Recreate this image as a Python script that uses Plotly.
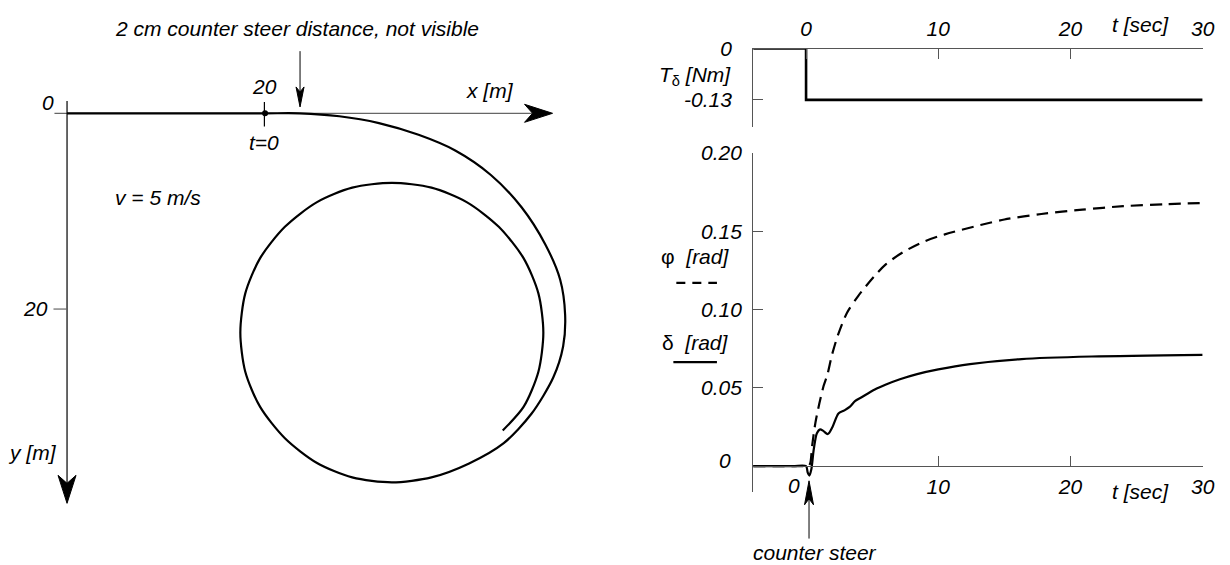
import plotly.graph_objects as go

W, H = 1230, 565
FONT = "Liberation Sans, Arial, Helvetica, sans-serif"
AXIS = "#555555"
FS = 21

# rider path seen from above [m], y counted downward
path_x = [0, 10, 20, 23.5, 27.5, 31.5, 35.5, 39.2, 42.8, 45.9, 48.3, 49.8, 50.3, 50.1,
          49.1, 46.9, 44.1, 40.55, 36.8, 32.8, 28.8, 25.2, 22.0, 19.5,
          18.0, 17.5, 18.0, 19.5, 22.0, 25.2, 28.8, 32.8, 36.8, 40.4,
          43.6, 46.1, 47.6, 48.1, 47.6, 46.1, 44.0]
path_y = [0, 0, 0, 0, 0.3, 1.0, 2.2, 3.8, 6.3, 9.6, 13.4, 17.0, 20.6, 23.8,
          27.0, 30.7, 33.7, 35.8, 37.2, 37.7, 37.2, 35.7, 33.2, 30.0,
          26.4, 22.4, 18.4, 14.8, 11.6, 9.1, 7.6, 7.1, 7.6, 9.1,
          11.6, 14.8, 18.4, 22.4, 26.4, 30.0, 32.4]
t0_x = [20]
t0_y = [0]

# steering torque step
t_torque = [-4, 0, 0, 30]
torque = [0, 0, -0.13, -0.13]

# roll angle phi (dashed)
t_phi = [-4, -1, 0.0, 0.2, 0.33, 0.46, 0.70, 1.0, 1.33, 1.62, 1.96, 2.41, 3.1, 3.94,
         5.13, 6.05, 7.35, 8.95, 10.5, 13.2, 15.0, 17.8, 20.9, 24.0, 27.2, 30]
phi = [0, 0, 0, 0.0, 0.0023, 0.013, 0.0273, 0.0398, 0.0513, 0.0586, 0.071, 0.0836, 0.098, 0.1086,
       0.121, 0.129, 0.1367, 0.1435, 0.148, 0.154, 0.1575, 0.161, 0.1638, 0.166, 0.1673, 0.168]

# steer angle delta (solid)
t_delta = [-4, -1, 0.0, 0.12, 0.25, 0.4, 0.58, 0.82, 1.07, 1.3, 1.65, 2.0, 2.45, 2.9, 3.3,
           3.7, 4.2, 5.2, 6.0, 7.1, 8.4, 10.0, 12.4, 16.3, 21.6, 30]
delta = [0, 0, 0, -0.004, -0.006, -0.002, 0.0106, 0.021, 0.0235, 0.0225, 0.0205, 0.025, 0.0336, 0.0356, 0.0378,
         0.0415, 0.044, 0.049, 0.052, 0.0555, 0.0588, 0.0618, 0.0652, 0.0684, 0.070, 0.0711]

time_ticks = [0, 10, 20, 30]
torque_ticks = [0, -0.13]
torque_labels = ["0", "-0.13"]
angle_ticks = [0.05, 0.10, 0.15, 0.20]
angle_labels = ["0.05", "0.10", "0.15", "0.20"]


def px(x):
    return x / W


def py(y):
    return 1 - y / H


fig = go.Figure()
fig.add_trace(go.Scatter(x=path_x, y=path_y, mode="lines", xaxis="x3", yaxis="y3",
                         line=dict(color="black", width=2.2, shape="spline", smoothing=0.8)))
fig.add_trace(go.Scatter(x=t0_x, y=t0_y, mode="markers", xaxis="x3", yaxis="y3",
                         marker=dict(color="black", size=6)))
fig.add_trace(go.Scatter(x=t_torque, y=torque, mode="lines", xaxis="x", yaxis="y",
                         line=dict(color="black", width=2.6)))
fig.add_trace(go.Scatter(x=t_phi, y=phi, mode="lines", xaxis="x2", yaxis="y2",
                         line=dict(color="black", width=2.2, dash="12px,7px", shape="spline", smoothing=0.8)))
fig.add_trace(go.Scatter(x=t_delta, y=delta, mode="lines", xaxis="x2", yaxis="y2",
                         line=dict(color="black", width=2.2, shape="spline", smoothing=0.8)))

axis_style = dict(showline=True, linecolor=AXIS, linewidth=1, ticks="inside", ticklen=10,
                  tickcolor=AXIS, showgrid=False, zeroline=False,
                  tickfont=dict(style="italic", size=FS, color="black"))
x_dom = [px(760.6), px(1214.5)]

fig.update_layout(
    width=W, height=H, margin=dict(l=0, r=0, t=0, b=0),
    paper_bgcolor="white", plot_bgcolor="rgba(0,0,0,0)",
    showlegend=False,
    font=dict(family=FONT, size=FS, color="black"),
    xaxis=dict(domain=x_dom, range=[-4, 30], anchor="y", side="top", tickvals=time_ticks,
               ticklabelstandoff=3, **axis_style),
    yaxis=dict(domain=[py(118), py(37.3)], range=[-0.2, 0], anchor="x", tickvals=torque_ticks,
               ticktext=torque_labels, ticklabelstandoff=16, **axis_style),
    xaxis2=dict(domain=x_dom, range=[-4, 30], anchor="free", position=py(463.7),
                tickvals=time_ticks[1:], ticklabelstandoff=2, **axis_style),
    yaxis2=dict(domain=[py(490), py(144)], range=[-0.01625, 0.20], anchor="x2", tickvals=angle_ticks,
                ticktext=angle_labels, ticklabelstandoff=6, **axis_style),
    xaxis3=dict(domain=[px(20), px(600)], range=[-4.77, 53.23], visible=False),
    yaxis3=dict(domain=[py(560), py(60)], range=[45.65, -4.35], visible=False, anchor="x3"),
)


def note(text, x, y, xanchor="center", italic=True, size=FS):
    fig.add_annotation(text=text, x=px(x), y=py(y), xref="paper", yref="paper",
                       xanchor=xanchor, yanchor="middle", showarrow=False,
                       font=dict(size=size, color="black", style="italic" if italic else "normal"))


note("2 cm counter steer distance, not visible", 300, 17)
note("0", 48, 92)
note("20", 267, 76)
note("x [m]", 495, 80)
note("t=0", 267, 133)
note("v = 5 m/s", 160, 190)
note("20", 36, 303)
note("y [m]", 33, 450)
note("t [sec]", 1152, 13)
note("t [sec]", 1152, 490)
note("0", 802, 484)
note("0", 732, 458)
note("counter steer", 823, 552)
note("<i>T</i><sub>δ</sub> <i>[Nm]</i>", 740, 65, xanchor="right", italic=False)
note("φ  <i>[rad]</i>", 738, 250, xanchor="right", italic=False)
note("δ  <i>[rad]</i>", 738, 338, xanchor="right", italic=False)


def seg(x0, y0, x1, y1, color="black", width=1, dash=None, layer="above"):
    fig.add_shape(type="line", xref="paper", yref="paper", x0=px(x0), y0=py(y0), x1=px(x1), y1=py(y1),
                  line=dict(color=color, width=width, dash=dash), layer=layer)


def head(x, y, path):
    fig.add_shape(type="path", xref="paper", yref="paper", xsizemode="pixel", ysizemode="pixel",
                  xanchor=px(x), yanchor=py(y), path=path,
                  fillcolor="black", line=dict(color="black", width=1))


# left axes with arrows
seg(55, 103.5, 545, 103.5, color="#666666", width=1.2, layer="below")
head(558, 103.5, "M0,0 L-28,9 L-20,0 L-28,-9 Z")
seg(67.7, 91, 67.7, 490, color="black", width=1.2, layer="below")
head(67.7, 502, "M0,0 L-9,28 L0,20 L9,28 Z")
seg(54, 303.5, 67.7, 303.5, color="#666666", width=1.2)
seg(267, 92, 267, 117, color="black", width=1.2)

# annotation arrows
seg(303, 40, 303, 85)
head(303, 97, "M0,0 L-4,20 L0,15 L4,20 Z")
seg(817, 495, 817, 538)
head(817, 479, "M0,0 L-4.5,-24 L0,-18 L4.5,-24 Z")

# legend samples
seg(683, 276.7, 724, 276.7, width=2.2, dash="9px,7px")
seg(680, 357.7, 724, 357.7, width=2.2)

fig.write_html("out.html", config={"displayModeBar": False},
               post_script="document.body.style.margin='0';")
